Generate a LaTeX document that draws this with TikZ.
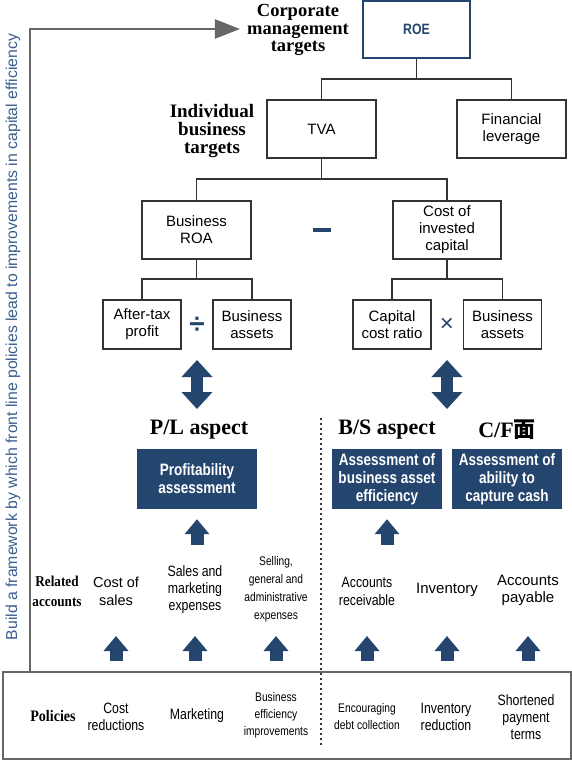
\documentclass[tikz,border=0pt]{standalone}
\usepackage{fontspec}
\setmainfont{Liberation Serif}
\setsansfont{Liberation Sans}
\newfontfamily\cndfont{Liberation Sans}[FakeStretch=0.82]
\newfontfamily\cndserif{Liberation Serif}[FakeStretch=0.88]
\newfontfamily\cjkfont{Noto Sans CJK JP}
\usepackage{tikz}
\usetikzlibrary{arrows.meta}
\definecolor{navy}{HTML}{24466E}
\definecolor{linegray}{HTML}{666666}
\definecolor{framegray}{HTML}{333333}
\definecolor{sidetext}{HTML}{3A5F8F}
\tikzset{box/.style={draw=framegray,line width=1.6pt,align=center,inner sep=0pt,font=\sffamily\fontsize{15}{17}\selectfont},
  bigbox/.style={box,minimum width=109pt,minimum height=58pt},
  smallbox/.style={box,minimum width=78pt,minimum height=49pt},
  navybox/.style={fill=navy,text=white,align=center,inner sep=0pt,minimum width=110pt,minimum height=60pt,font=\cndfont\bfseries\fontsize{16.5}{18}\selectfont},
  head/.style={align=center,inner sep=1pt,font=\bfseries\fontsize{18.5}{17.2}\selectfont},
  aspect/.style={font=\bfseries\fontsize{22}{24}\selectfont},
  acct/.style={align=center,font=\sffamily\fontsize{14.5}{18}\selectfont},
  pol/.style={align=center,font=\cndfont\fontsize{15}{17}\selectfont},
  side/.style={align=center,font=\cndserif\bfseries\fontsize{15}{20}\selectfont},
  op/.style={text=navy,inner sep=0pt},
  conn/.style={draw=framegray,line width=1.6pt},
  fb/.style={draw=linegray,line width=2.5pt,-{Triangle[width=19pt,length=25pt]}},
  uparr/.style={navy,line width=13pt,-{Triangle[width=24pt,length=15pt]}},
  dblarr/.style={navy,line width=12pt,{Triangle[width=30pt,length=17pt]}-{Triangle[width=30pt,length=17pt]}}}

\begin{document}
\begin{tikzpicture}[x=1pt,y=-1pt]
    \useasboundingbox (0,0) rectangle (572,761);

    % targets
    \node[head] (corp) at (298,30) {Corporate\\management\\targets};
    \node[head,font=\bfseries\fontsize{19}{18.2}\selectfont] (indiv) at (212,131) {Individual\\business\\targets};
    \node[box,draw=navy,line width=2pt,text=navy,minimum width=107pt,minimum height=57pt,font=\cndfont\bfseries\fontsize{15}{17}\selectfont] (roe) at (416.5,29.5) {ROE};
    \node[bigbox] (tva) at (321.5,129) {TVA};
    \node[bigbox] (finlev) at (511.5,129) {Financial\\leverage};
    \node[bigbox] (broa) at (196.5,230) {Business\\ROA};
    \node[bigbox,minimum width=108pt] (coic) at (447,230) {Cost of\\invested\\capital};
    \node[smallbox] (atp) at (142,324.5) {After-tax\\profit};
    \node[smallbox] (bas) at (252,324.5) {Business\\assets};
    \node[smallbox] (ccr) at (392,324.5) {Capital\\cost ratio};
    \node[smallbox] (basb) at (502.5,324.5) {Business\\assets};

    % operators
    \node[op] (minus) at (322,230) {\rule{18pt}{4pt}};
    \node[op,font=\sffamily\bfseries\fontsize{28}{28}\selectfont] (divop) at (197,325) {÷};
    \node[op,font=\sffamily\fontsize{24}{24}\selectfont] (timesop) at (447,325) {×};

    \draw[conn] (roe.south) -- ++(0,20) coordinate (rj) -| (tva.north);
    \draw[conn] (rj) -| (finlev.north);
    \draw[conn] (tva.south) -- ++(0,20) coordinate (tj) -| (broa.north);
    \draw[conn] (tj) -| (coic.north);
    \draw[conn] (broa.south) -- ++(0,19) coordinate (bj) -| (atp.north);
    \draw[conn] (bj) -| (bas.north);
    \draw[conn] (coic.south) -- ++(0,19) coordinate (cj) -| (ccr.north);
    \draw[conn] (cj) -| (basb.north);

    % aspects
    \draw[dblarr] (197,409) -- (197,360);
    \draw[dblarr] (447,409) -- (447,360);
    \node[aspect] (plasp) at (199,430) {P/L aspect};
    \node[aspect] (bsasp) at (387,430) {B/S aspect};
    \node[aspect] (cfasp) at (507,430) {C/F{\cjkfont 面}};
    \node[navybox,minimum width=120pt] (prof) at (197,479) {Profitability\\assessment};
    \node[navybox] (bseff) at (387,479) {Assessment of\\business asset\\efficiency};
    \node[navybox] (cfcash) at (507,479) {Assessment of\\ability to\\capture cash};
    \draw[uparr] ([yshift=-36pt]prof.south) -- ([yshift=-10pt]prof.south);
    \draw[uparr] ([yshift=-36pt]bseff.south) -- ([yshift=-10pt]bseff.south);
    \draw[dash pattern=on 1.6pt off 3.4pt,line width=1.6pt,framegray] (321,418) -- (321,745);

    % related accounts
    \node[side] (related) at (57,591) {Related\\accounts};
    \node[acct] (cost) at (116,591) {Cost of\\sales};
    \node[acct,font=\cndfont\fontsize{15}{17}\selectfont] (mkt) at (195,590) {Sales and\\marketing\\expenses};
    \node[acct,font=\cndfont\fontsize{12.5}{18}\selectfont] (sga) at (276,589) {Selling,\\general and\\administrative\\expenses};
    \node[acct,font=\cndfont\fontsize{15}{18}\selectfont] (ar) at (367,591) {Accounts\\receivable};
    \node[acct,font=\sffamily\fontsize{15}{17}\selectfont] (inv) at (447,590) {Inventory};
    \node[acct,font=\sffamily\fontsize{15}{17}\selectfont] (ap) at (528,590) {Accounts\\payable};

    % policies
    \node[draw=linegray,line width=2pt,minimum width=568pt,minimum height=87pt] (polbox) at (287,715.5) {};
    \node[side,font=\cndserif\bfseries\fontsize{16}{20}\selectfont] (policies) at (53,716) {Policies};
    \node[pol] (pcost) at (116,716.5) {Cost\\reductions};
    \node[pol] (pmkt) at (197,716) {Marketing};
    \node[pol,font=\cndfont\fontsize{12.5}{17}\selectfont] (peff) at (276,715) {Business\\efficiency\\improvements};
    \node[pol,font=\cndfont\fontsize{12.5}{17}\selectfont] (pdebt) at (367,716.5) {Encouraging\\debt collection};
    \node[pol] (pinv) at (446,716.5) {Inventory\\reduction};
    \node[pol] (pterm) at (526,717) {Shortened\\payment\\terms};

    \coordinate (arrlo) at (0,661);
    \coordinate (arrhi) at (0,636);
    \foreach \n in {cost,mkt,sga,ar,inv,ap}
        \draw[uparr] (\n |- arrlo) -- (\n |- arrhi);

    % feedback loop
    \coordinate (bend) at (30,29);
    \draw[fb] (bend |- polbox.north) -- (bend) -- ([xshift=-6pt]bend -| corp.west);
    \node[rotate=90,text=sidetext,font=\sffamily\fontsize{15.8}{18}\selectfont] (frame) at (13,337) {Build a framework by which front line policies lead to improvements in capital efficiency};
\end{tikzpicture}
\end{document}
